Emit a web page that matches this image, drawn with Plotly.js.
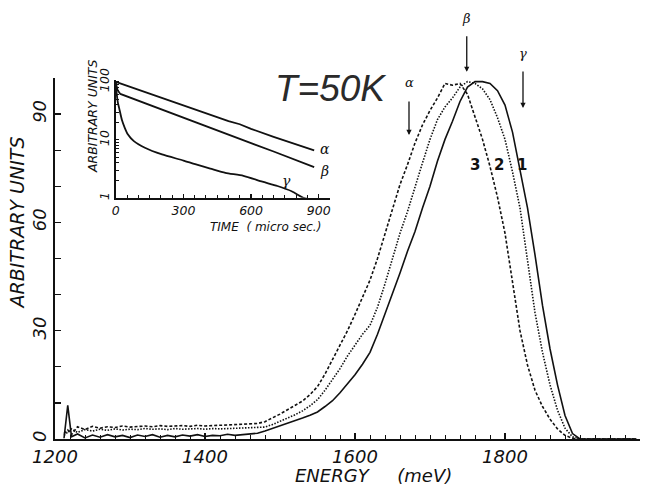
<!DOCTYPE html>
<html>
<head>
<meta charset="utf-8">
<script src="https://cdn.plot.ly/plotly-3.0.1.min.js"></script>
<style>
  html, body { margin: 0; padding: 0; background: #fff; }
  #chart { width: 648px; height: 491px; }
</style>
</head>
<body>
<div id="chart"></div>
<script>
// Photoluminescence spectra at T = 50 K (energy in meV, arbitrary units)
const energy = [1212, 1217, 1222,
  1230, 1240, 1250, 1260, 1270, 1280, 1290, 1300, 1310, 1320, 1330, 1340, 1350,
  1360, 1370, 1380, 1390, 1400, 1410, 1420, 1430, 1440, 1450, 1460, 1470, 1480,
  1490, 1500, 1510, 1520, 1530, 1540, 1550, 1560, 1570, 1580, 1590, 1600, 1610,
  1620, 1630, 1640, 1650, 1660, 1670, 1680, 1690, 1700, 1710, 1720, 1730, 1740,
  1750, 1760, 1770, 1780, 1790, 1800, 1810, 1820, 1830, 1840, 1850, 1860, 1870,
  1880, 1890, 1900, 1920, 1940, 1960, 1975];

// spectrum 1 (solid)
const spectrum1 = [0.2, 9.3, 0.6,
  1.4, 0.3, 1.1, 0.5, 1.2, 0.6, 1.0, 0.4, 1.1, 0.7, 1.2, 0.5, 1.0,
  0.6, 1.1, 0.8, 1.2, 0.7, 1.0, 0.9, 1.3, 1.0, 1.2, 1.4, 1.6, 2.2,
  2.9, 3.5, 4.2, 5.0, 5.8, 6.6, 7.5, 9.0, 10.6, 12.8, 15.2, 17.8, 20.7,
  24, 29, 34.5, 40.5, 46, 52, 57.5, 64, 70, 77, 83, 88, 93.5,
  97.5, 99, 99, 98.5, 96.5, 92.5, 85, 75, 64, 51, 37, 25, 15,
  6.5, 1.5, 0, 0, 0, 0, 0];

// spectrum 2 (dotted)
const spectrum2 = [1.0, 2.0, 2.8,
  1.8, 2.6, 2.2, 2.7, 2.4, 2.8, 2.5, 2.7, 2.6, 2.9, 2.7, 2.8, 2.6,
  2.9, 2.7, 2.8, 2.9, 2.7, 2.9, 2.8, 2.9, 3.0, 2.9, 3.0, 3.1, 3.3,
  4.0, 4.8, 5.8, 6.7, 7.8, 9.2, 10.9, 13.5, 16.5, 19.5, 23, 26, 29,
  31.5, 36.5, 43, 50, 57, 63, 70, 76.5, 83, 88.5, 92, 94.5, 97.5,
  99, 98.5, 97, 94, 89, 83, 74, 64, 50, 35, 24, 15, 8,
  3, 0.6, 0, 0, 0, 0, 0];

// spectrum 3 (dashed)
const spectrum3 = [1.5, 2.5, 1.2,
  3.4, 2.6, 3.5, 3.0, 3.4, 3.2, 3.6, 3.3, 3.5, 3.6, 3.4, 3.7, 3.5,
  3.6, 3.7, 3.5, 3.8, 3.6, 3.7, 3.8, 3.7, 3.9, 4.0, 4.1, 4.3, 4.8,
  5.8, 6.9, 8.1, 9.2, 10.5, 12.3, 14.5, 18, 22, 26, 30, 34.5, 39.5,
  44, 50, 57, 64, 70.5, 76, 82, 87, 91, 94.5, 98.5, 98, 98.5,
  95.5, 89.5, 83, 75.5, 67, 57, 44, 30, 20.5, 13.5, 9, 5.5, 2.8,
  1, 0.2, 0, 0, 0, 0, 0];

// Inset: decay curves (time in microseconds, log intensity)
const timeAlpha = [0, 100, 200, 300, 400, 500, 550, 600, 700, 800, 880];
const decayAlpha = [100, 73, 53.7, 39.4, 28.8, 21.1, 18.6, 15.5, 11.3, 8.3, 6.6];

const timeBeta = [0, 8, 20, 100, 200, 300, 400, 500, 600, 700, 800, 880];
const decayBeta = [95, 72, 62, 47.2, 33.7, 24.1, 17.3, 12.3, 8.8, 6.3, 4.5, 3.4];

const timeGamma = [0, 4, 9, 15, 27, 40, 53, 80, 129, 205, 300, 352, 419, 486, 566, 650, 717, 780, 833, 860];
const decayGamma = [100, 62, 44, 35, 22, 16, 12.5, 9.5, 7.3, 5.6, 4.4, 3.8, 3.2, 2.7, 2.4, 1.9, 1.6, 1.3, 1.0, 0.95];

const energyTicks = [1200, 1400, 1600, 1800];
const intensityTicks = [0, 30, 60, 90];
const timeTicks = [0, 300, 600, 900];
const logTickVals = [1, 2, 3, 4, 5, 6, 7, 8, 9, 10, 20, 30, 40, 50, 60, 70, 80, 90, 100];
const logTickText = logTickVals.map(v => (v === 1 || v === 10 || v === 100) ? String(v) : '');

const INK = '#111';
const FONT = 'DejaVu Sans, Liberation Sans, sans-serif';
const italic = (size) => ({ family: FONT, size: size, color: INK, style: 'italic' });
const greek = (size) => ({ family: 'DejaVu Serif, serif', size: size, color: INK, style: 'italic' });

const traces = [
  { x: energy, y: spectrum1, xaxis: 'x', yaxis: 'y', mode: 'lines',
    line: { color: INK, width: 1.6 } },
  { x: energy, y: spectrum2, xaxis: 'x', yaxis: 'y', mode: 'lines',
    line: { color: INK, width: 1.6, dash: '1.5px,1.5px' } },
  { x: energy, y: spectrum3, xaxis: 'x', yaxis: 'y', mode: 'lines',
    line: { color: INK, width: 1.6, dash: '3px,2px' } },
  { x: timeAlpha, y: decayAlpha, xaxis: 'x2', yaxis: 'y2', mode: 'lines',
    line: { color: INK, width: 1.8 } },
  { x: timeBeta, y: decayBeta, xaxis: 'x2', yaxis: 'y2', mode: 'lines',
    line: { color: INK, width: 1.8 } },
  { x: timeGamma, y: decayGamma, xaxis: 'x2', yaxis: 'y2', mode: 'lines',
    line: { color: INK, width: 1.8, shape: 'spline', smoothing: 0.6 } }
];

const axisCommon = {
  showline: true, linecolor: INK, linewidth: 2, mirror: false,
  showgrid: false, zeroline: false, ticks: 'inside', tickcolor: INK
};

const layout = {
  width: 648, height: 491,
  margin: { l: 55, r: 8, t: 78, b: 52 },
  paper_bgcolor: '#fff', plot_bgcolor: 'rgba(0,0,0,0)',
  showlegend: false,
  xaxis: Object.assign({}, axisCommon, {
    domain: [0, 1], anchor: 'y', range: [1200, 1980],
    tickvals: energyTicks, ticklen: 6, tickwidth: 1.5,
    minor: { ticks: 'inside', dtick: 20, tick0: 1200, ticklen: 4, tickwidth: 1, tickcolor: INK },
    tickfont: italic(18)
  }),
  yaxis: Object.assign({}, axisCommon, {
    domain: [0, 1], anchor: 'x', range: [0, 100],
    tickvals: intensityTicks, tickangle: -90, ticklen: 6, tickwidth: 1.5,
    minor: { ticks: 'inside', dtick: 10, tick0: 0, ticklen: 6, tickwidth: 1.2, tickcolor: INK },
    tickfont: italic(18)
  }),
  xaxis2: Object.assign({}, axisCommon, {
    domain: [0.104, 0.470], anchor: 'y2', range: [0, 950],
    tickvals: timeTicks, ticklen: 4, tickwidth: 1.2, linewidth: 2,
    minor: { ticks: 'inside', dtick: 50, tick0: 0, ticklen: 3, tickwidth: 1, tickcolor: INK },
    tickfont: italic(12.5)
  }),
  yaxis2: Object.assign({}, axisCommon, {
    domain: [0.668, 0.994], anchor: 'x2', type: 'log', range: [0, 2.03],
    tickvals: logTickVals, ticktext: logTickText, tickangle: -90,
    ticklen: 3, tickwidth: 1, linewidth: 2,
    tickfont: italic(12.5)
  }),
  annotations: [
    // axis titles
    { text: 'ENERGY\u00a0\u00a0\u00a0\u00a0\u00a0(meV)', xref: 'paper', yref: 'paper',
      x: 0.545, y: -0.10, xanchor: 'center', yanchor: 'middle', showarrow: false, font: italic(18) },
    { text: 'ARBITRARY UNITS', xref: 'paper', yref: 'paper', textangle: -90,
      x: -0.065, y: 0.60, xanchor: 'center', yanchor: 'middle', showarrow: false, font: italic(19) },
    { text: 'TIME\u00a0\u00a0(\u00a0micro\u00a0sec.)', xref: 'paper', yref: 'paper',
      x: 0.36, y: 0.586, xanchor: 'center', yanchor: 'middle', showarrow: false, font: italic(12) },
    { text: 'ARBITRARY UNITS', xref: 'paper', yref: 'paper', textangle: -90,
      x: 0.065, y: 0.892, xanchor: 'center', yanchor: 'middle', showarrow: false, font: italic(12.5) },
    // temperature
    { text: 'T=50K', xref: 'paper', yref: 'paper', x: 0.373, y: 0.97,
      xanchor: 'left', yanchor: 'middle', showarrow: false,
      font: { family: 'Liberation Sans, Arial, sans-serif', size: 37, color: '#2a2a2a', style: 'italic' } },
    // spectrum numbers
    { text: '<b>3</b>', xref: 'x', yref: 'paper', x: 1760, y: 0.79, showarrow: false,
      font: { family: FONT, size: 15, color: INK } },
    { text: '<b>2</b>', xref: 'x', yref: 'paper', x: 1792, y: 0.79, showarrow: false,
      font: { family: FONT, size: 15, color: INK } },
    { text: '<b>1</b>', xref: 'x', yref: 'paper', x: 1823, y: 0.79, showarrow: false,
      font: { family: FONT, size: 15, color: INK } },
    // arrows marking the energies used for the decay curves
    { text: '', xref: 'x', yref: 'paper', x: 1672, y: 0.842, ax: 0, ay: -35,
      showarrow: true, arrowhead: 2, arrowsize: 0.8, arrowwidth: 1.3, arrowcolor: INK },
    { text: '', xref: 'x', yref: 'paper', x: 1749, y: 1.017, ax: 0, ay: -37,
      showarrow: true, arrowhead: 2, arrowsize: 0.8, arrowwidth: 1.3, arrowcolor: INK },
    { text: '', xref: 'x', yref: 'paper', x: 1824, y: 0.917, ax: 0, ay: -38,
      showarrow: true, arrowhead: 2, arrowsize: 0.8, arrowwidth: 1.3, arrowcolor: INK },
    { text: '\u03b1', xref: 'x', yref: 'paper', x: 1672, y: 1.014, showarrow: false, font: greek(13) },
    { text: '\u03b2', xref: 'x', yref: 'paper', x: 1749, y: 1.19, showarrow: false, font: greek(13) },
    { text: '\u03b3', xref: 'x', yref: 'paper', x: 1824, y: 1.094, showarrow: false, font: greek(13) },
    // inset curve labels
    { text: '\u03b1', xref: 'x2', yref: 'paper', x: 928, y: 0.83, showarrow: false, font: greek(14) },
    { text: '\u03b2', xref: 'x2', yref: 'paper', x: 928, y: 0.77, showarrow: false, font: greek(14) },
    { text: '\u03b3', xref: 'x2', yref: 'paper', x: 759, y: 0.742, showarrow: false, font: greek(14) }
  ]
};

Plotly.newPlot('chart', traces, layout, { staticPlot: true, displayModeBar: false });
</script>
</body>
</html>
